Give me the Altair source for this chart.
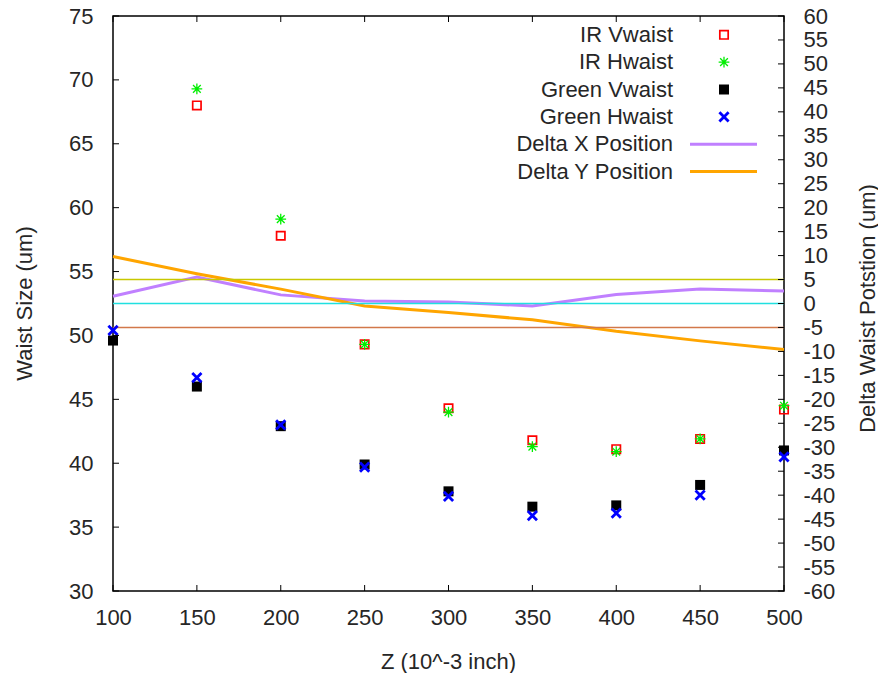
import altair as alt
import pandas as pd

FONT = "Liberation Sans"
FS = 22
TXT = "#262626"

# ---------------- data ----------------
z_all = [100, 150, 200, 250, 300, 350, 400, 450, 500]
z_ir = [150, 200, 250, 300, 350, 400, 450, 500]
ir_vwaist = [68.0, 57.8, 49.3, 44.3, 41.8, 41.1, 41.9, 44.2]
ir_hwaist = [69.3, 59.1, 49.3, 44.0, 41.3, 40.9, 41.9, 44.5]
green_vwaist = [49.6, 46.0, 42.9, 39.9, 37.8, 36.6, 36.7, 38.3, 41.0]
green_hwaist = [50.4, 46.7, 43.0, 39.7, 37.4, 35.9, 36.1, 37.5, 40.5]
delta_x = [1.5, 5.5, 1.8, 0.5, 0.3, -0.5, 1.9, 3.0, 2.6]
delta_y = [9.8, 6.2, 3.0, -0.5, -1.9, -3.4, -5.8, -7.8, -9.6]
ref_levels = [5, 0, -5]
legend_labels = ["IR Vwaist", "IR Hwaist", "Green Vwaist", "Green Hwaist",
                 "Delta X Position", "Delta Y Position"]
x_ticks = list(range(100, 501, 50))
left_ticks = list(range(30, 76, 5))
right_ticks = list(range(-60, 61, 5))

# ---------------- styles ----------------
ref_colors = ["#c8c800", "#20e0e0", "#d2784a"]
C_IRV, C_IRH, C_GV, C_GH = "#ff0000", "#00ee00", "#000000", "#0000ff"
C_DX, C_DY = "#c080ff", "#ffa500"
ASTER = "M-1,0L1,0M0,-1L0,1M-0.72,-0.72L0.72,0.72M-0.72,0.72L0.72,-0.72"
XMARK = "M-1,-1L1,1M-1,1L1,-1"

W, H = 671, 575
LBL = "'' + datum.value"

xscale = alt.Scale(domain=[100, 500], nice=False, zero=False)
lscale = alt.Scale(domain=[30, 75], nice=False, zero=False)
rscale = alt.Scale(domain=[-60, 60], nice=False, zero=False)

x_axis = alt.Axis(values=x_ticks, title="Z (10^-3 inch)", labelPadding=16,
                  labelFlush=False, labelOverlap=False, labelExpr=LBL,
                  titleX=335, titleY=70, titleAlign="center", titleBaseline="middle")
left_axis = alt.Axis(orient="left", values=left_ticks, title="Waist Size (um)",
                     labelPadding=20, labelFlush=False, labelOverlap=False, labelExpr=LBL,
                     titleX=-89, titleY=287, titleAngle=270,
                     titleAlign="center", titleBaseline="middle")
right_axis = alt.Axis(orient="right", values=right_ticks, title="Delta Waist Potstion (um)",
                      labelPadding=19, labelFlush=False, labelOverlap=False, labelExpr=LBL,
                      titleX=83, titleY=292, titleAngle=270,
                      titleAlign="center", titleBaseline="middle")

df_ir = pd.DataFrame({"z": z_ir, "v": ir_vwaist, "h": ir_hwaist})
df_g = pd.DataFrame({"z": z_all, "v": green_vwaist, "h": green_hwaist,
                     "dx": delta_x, "dy": delta_y})


def X(field):
    return alt.X(field, scale=xscale, axis=x_axis)


def YL(field):
    return alt.Y(field, scale=lscale, axis=left_axis)


def YR(field):
    return alt.Y(field, scale=rscale, axis=right_axis)


# ---------------- left (waist size) layer ----------------
p_irv = alt.Chart(df_ir).mark_point(shape="square", filled=False, size=70, strokeWidth=1.7,
                                    color=C_IRV, opacity=1).encode(x=X("z:Q"), y=YL("v:Q"))
p_irh = alt.Chart(df_ir).mark_point(shape=ASTER, filled=False, size=115, strokeWidth=1.3,
                                    color=C_IRH, opacity=1).encode(x=X("z:Q"), y=YL("h:Q"))
p_gv = alt.Chart(df_g).mark_point(shape="square", filled=True, size=100,
                                  color=C_GV, opacity=1).encode(x=X("z:Q"), y=YL("v:Q"))
p_gh = alt.Chart(df_g).mark_point(shape=XMARK, filled=False, size=85, strokeWidth=2.8,
                                  color=C_GH, opacity=1).encode(x=X("z:Q"), y=YL("h:Q"))
lticks = alt.Chart(pd.DataFrame({"t": left_ticks})).mark_rule(color="black", strokeWidth=1).encode(
    y=YL("t:Q"), x=alt.value(0), x2=alt.value(6))
left = alt.layer(p_irv, p_irh, p_gv, p_gh, lticks)

# ---------------- right (delta position) layer ----------------
l_dx = alt.Chart(df_g).mark_line(color=C_DX, strokeWidth=3).encode(x=X("z:Q"), y=YR("dx:Q"))
l_dy = alt.Chart(df_g).mark_line(color=C_DY, strokeWidth=3).encode(x=X("z:Q"), y=YR("dy:Q"))
hl = alt.Chart(pd.DataFrame({"lvl": ref_levels})).mark_rule(strokeWidth=1.6).encode(
    y=YR("lvl:Q"),
    color=alt.Color("lvl:N", scale=alt.Scale(domain=ref_levels, range=ref_colors), legend=None))
rticks = alt.Chart(pd.DataFrame({"t": right_ticks})).mark_rule(color="black", strokeWidth=1).encode(
    y=YR("t:Q"), x=alt.value(W - 6), x2=alt.value(W))
right = alt.layer(l_dx, l_dy, hl, rticks)

# ---------------- x ticks (bottom + mirrored top) ----------------
df_xt = pd.DataFrame({"t": x_ticks})
xt_bot = alt.Chart(df_xt).mark_rule(color="black", strokeWidth=1).encode(
    x=X("t:Q"), y=alt.value(H - 6), y2=alt.value(H))
xt_top = alt.Chart(df_xt).mark_rule(color="black", strokeWidth=1).encode(
    x=X("t:Q"), y=alt.value(0), y2=alt.value(6))

# ---------------- legend (gnuplot style, inside top right) ----------------
leg_layers = []
row0, drow = 18.8, 27.35
text_x, sym_x, line_x0, line_x1 = 560, 611, 577, 644
sym_styles = [
    dict(shape="square", filled=False, size=70, strokeWidth=1.7, color=C_IRV),
    dict(shape=ASTER, filled=False, size=115, strokeWidth=1.3, color=C_IRH),
    dict(shape="square", filled=True, size=100, color=C_GV),
    dict(shape=XMARK, filled=False, size=85, strokeWidth=2.8, color=C_GH),
]
line_styles = [C_DX, C_DY]
for i, lab in enumerate(legend_labels):
    yrow = row0 + drow * i
    d = pd.DataFrame({"label": [lab]})
    leg_layers.append(alt.Chart(d).mark_text(align="right", baseline="middle", font=FONT,
                                             fontSize=FS, color=TXT).encode(
        text="label:N", x=alt.value(text_x), y=alt.value(yrow)))
    if i < 4:
        leg_layers.append(alt.Chart(d).mark_point(opacity=1, **sym_styles[i]).encode(
            x=alt.value(sym_x), y=alt.value(yrow)))
    else:
        leg_layers.append(alt.Chart(d).mark_rule(color=line_styles[i - 4], strokeWidth=3).encode(
            x=alt.value(line_x0), x2=alt.value(line_x1), y=alt.value(yrow)))

chart = alt.layer(right, left, xt_bot, xt_top, *leg_layers).resolve_scale(
    y="independent"
).properties(
    width=W, height=H,
    padding={"left": 113, "top": 16, "right": 94, "bottom": 82},
    autosize=alt.AutoSizeParams(type="none"),
    background="white",
).configure_view(
    stroke="black", strokeWidth=1.5
).configure_axis(
    domain=False, ticks=False, tickSize=0, grid=False,
    labelFont=FONT, labelFontSize=FS, labelColor=TXT,
    titleFont=FONT, titleFontSize=FS, titleFontWeight="normal", titleColor=TXT,
    titlePadding=0,
)

chart.save("out.html", embed_options={"renderer": "svg", "actions": False})
